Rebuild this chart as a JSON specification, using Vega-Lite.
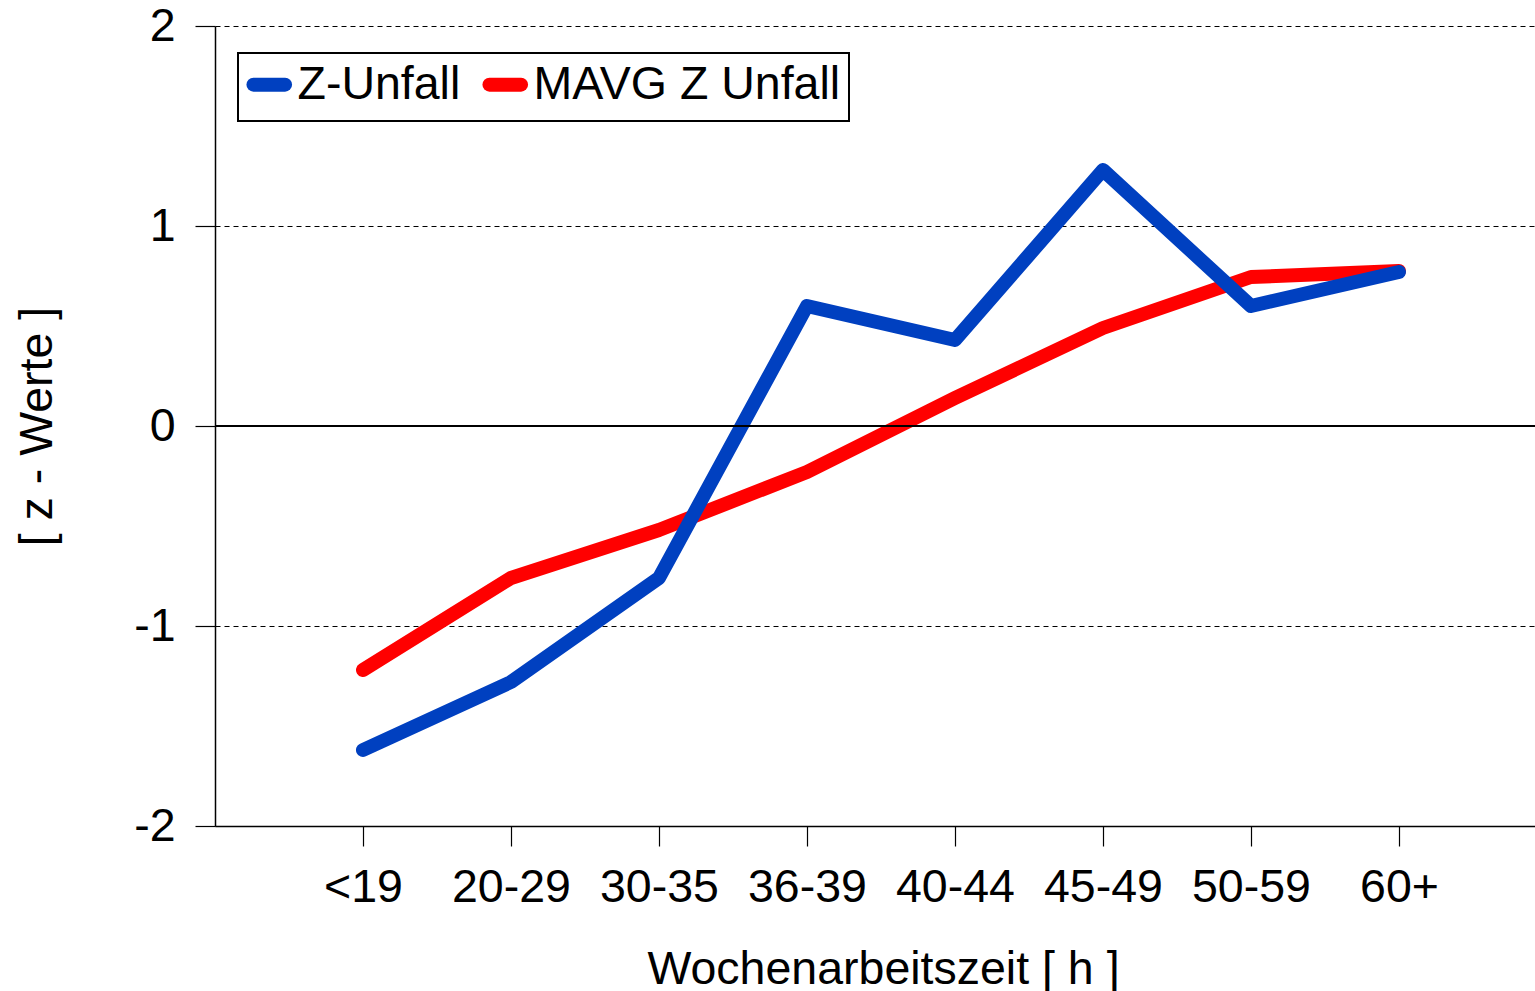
{
  "$schema": "https://vega.github.io/schema/vega-lite/v6.json",
  "width": 1320,
  "height": 800,
  "autosize": {"type": "none"},
  "padding": {"left": 215, "top": 26, "right": 0, "bottom": 165},
  "background": "white",
  "config": {
    "font": "Liberation Sans",
    "view": {"stroke": null},
    "axis": {
      "domainColor": "black",
      "domainWidth": 1.5,
      "tickColor": "black",
      "tickWidth": 1.2,
      "tickSize": 20,
      "labelFont": "Liberation Sans",
      "labelFontSize": 46.5,
      "labelColor": "black",
      "titleFont": "Liberation Sans",
      "titleFontSize": 46.5,
      "titleFontWeight": "normal",
      "titleColor": "black"
    }
  },
  "data": {
    "values": [
      {"group": "<19", "series": "Z-Unfall", "z": -1.62},
      {"group": "20-29", "series": "Z-Unfall", "z": -1.28},
      {"group": "30-35", "series": "Z-Unfall", "z": -0.76},
      {"group": "36-39", "series": "Z-Unfall", "z": 0.6},
      {"group": "40-44", "series": "Z-Unfall", "z": 0.43},
      {"group": "45-49", "series": "Z-Unfall", "z": 1.28},
      {"group": "50-59", "series": "Z-Unfall", "z": 0.6},
      {"group": "60+", "series": "Z-Unfall", "z": 0.77},
      {"group": "<19", "series": "MAVG Z Unfall", "z": -1.22},
      {"group": "20-29", "series": "MAVG Z Unfall", "z": -0.76},
      {"group": "30-35", "series": "MAVG Z Unfall", "z": -0.52},
      {"group": "36-39", "series": "MAVG Z Unfall", "z": -0.23},
      {"group": "40-44", "series": "MAVG Z Unfall", "z": 0.14},
      {"group": "45-49", "series": "MAVG Z Unfall", "z": 0.49},
      {"group": "50-59", "series": "MAVG Z Unfall", "z": 0.745},
      {"group": "60+", "series": "MAVG Z Unfall", "z": 0.775}
    ]
  },
  "layer": [
    {
      "transform": [{"filter": "datum.series === 'MAVG Z Unfall'"}],
      "mark": {"type": "line", "strokeWidth": 14, "strokeCap": "round", "strokeJoin": "round"},
      "encoding": {
        "x": {
          "field": "group",
          "type": "ordinal",
          "sort": ["<19", "20-29", "30-35", "36-39", "40-44", "45-49", "50-59", "60+"],
          "scale": {"type": "point", "padding": 0.9595, "align": 0.521},
          "axis": {
            "title": "Wochenarbeitszeit [ h ]",
            "labelAngle": 0,
            "labelPadding": 18,
            "titlePadding": 36,
            "titleX": 668,
            "grid": false
          }
        },
        "y": {
          "field": "z",
          "type": "quantitative",
          "scale": {"domain": [-2, 2], "nice": false, "zero": false},
          "axis": {
            "title": "[ z - Werte ]",
            "values": [-2, -1, 0, 1, 2],
            "labelExpr": "datum.value < 0 ? '-' + abs(datum.value) : '' + datum.value",
            "labelPadding": 20,
            "titlePadding": 72,
            "grid": true,
            "gridColor": "black",
            "gridDash": [5, 4],
            "gridWidth": 1
          }
        },
        "color": {
          "field": "series",
          "type": "nominal",
          "scale": {"domain": ["Z-Unfall", "MAVG Z Unfall"], "range": ["#0040C0", "#FF0000"]},
          "legend": {
            "title": null,
            "orient": "none",
            "legendX": 23,
            "legendY": 27,
            "direction": "horizontal",
            "strokeColor": "black",
            "padding": 8,
            "symbolType": "stroke",
            "symbolStrokeWidth": 14,
            "symbolSize": 1000,
            "labelFontSize": 46.5,
            "labelFont": "Liberation Sans",
            "labelColor": "black",
            "labelOffset": 5,
            "labelLimit": 0,
            "columnPadding": 0,
            "encode": {
              "legend": {"update": {"strokeWidth": {"value": 2}}},
              "symbols": {"update": {"strokeCap": {"value": "round"}}}
            }
          }
        }
      }
    },
    {
      "transform": [{"filter": "datum.series === 'Z-Unfall'"}],
      "mark": {"type": "line", "strokeWidth": 14, "strokeCap": "round", "strokeJoin": "round"},
      "encoding": {
        "x": {
          "field": "group",
          "type": "ordinal",
          "sort": ["<19", "20-29", "30-35", "36-39", "40-44", "45-49", "50-59", "60+"]
        },
        "y": {"field": "z", "type": "quantitative"},
        "color": {"field": "series", "type": "nominal"}
      }
    },
    {
      "data": {"values": [{}]},
      "mark": {"type": "rule", "color": "black", "strokeWidth": 2},
      "encoding": {"y": {"datum": 0}}
    }
  ]
}
